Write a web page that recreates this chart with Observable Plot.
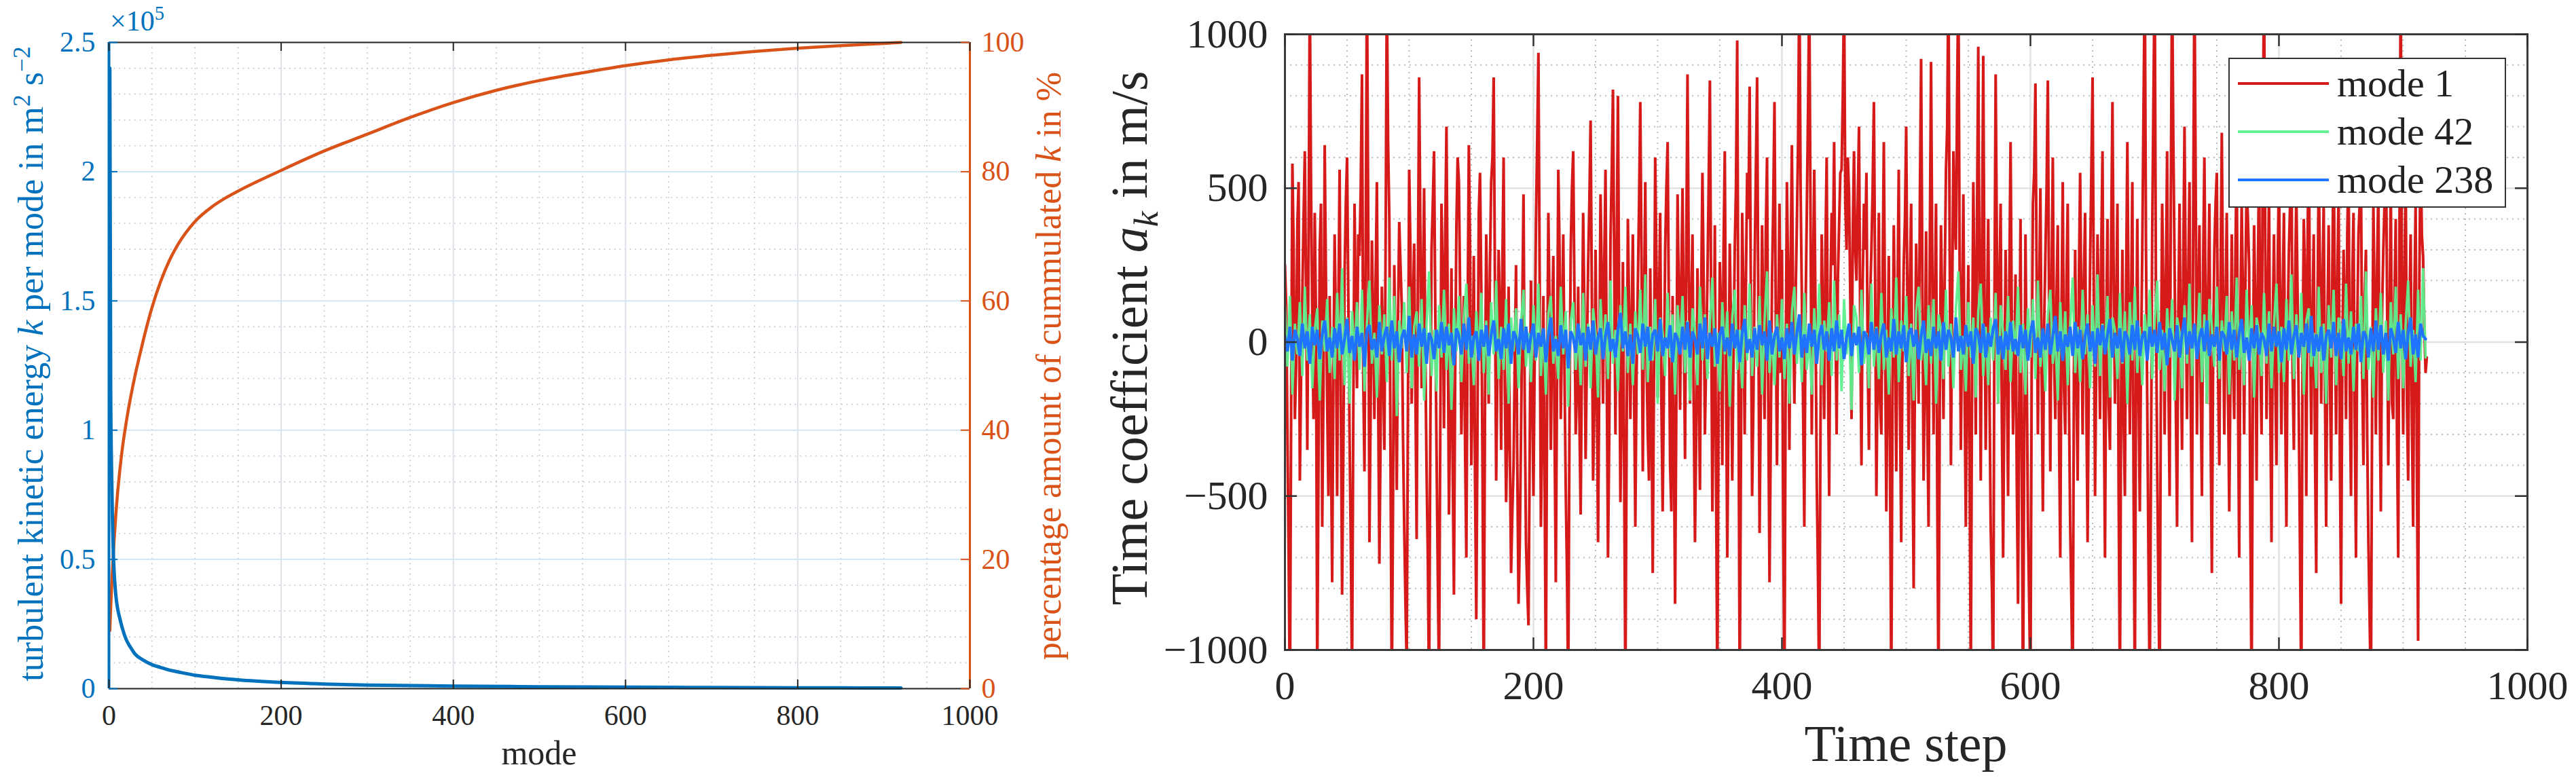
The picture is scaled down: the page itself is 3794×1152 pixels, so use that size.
<!DOCTYPE html>
<html><head><meta charset="utf-8">
<script src="https://cdn.jsdelivr.net/npm/d3@7"></script>
<script src="https://cdn.jsdelivr.net/npm/@observablehq/plot@0.6"></script>
<style>
html,body{margin:0;padding:0;background:#fff;}
#root{position:relative;width:3794px;height:1152px;overflow:hidden;font-family:"Liberation Serif",serif;background:#fff;}
.panel{position:absolute;top:0;}
.panel svg, .panel svg text{font-family:"Liberation Serif",serif !important;}
.lbl{position:absolute;white-space:nowrap;line-height:1;font-family:"Liberation Serif",serif;}
.lbl sup{font-size:0.68em;vertical-align:0.55em;line-height:0;}
.lbl sub{font-size:0.68em;vertical-align:-0.3em;line-height:0;}
.legend{position:absolute;background:#fff;border:2.5px solid #333;box-sizing:border-box;font-family:"Liberation Serif",serif;}
.legend .row{position:absolute;left:0;white-space:nowrap;line-height:1;color:#222;}
</style></head><body><div id="root"></div>
<script>
// ---------------- Left panel data ----------------
const energyModes = [1,2,3,4,5,6,7,8,10,12,15,20,25,30,40,50,60,70,80,100,120,150,200,250,300,400,500,600,700,800,900,920];
const energyValues = [240000,115000,85000,66000,53000,45000,40000,36000,31000,28000,24000,19000,16000,13500,11000,9300,8200,7200,6500,5200,4400,3400,2400,1800,1400,1000,750,580,450,350,260,240];
const cumModes = [1,2,3,4,5,6,8,10,12,15,20,25,30,35,40,50,60,70,80,100,120,135,150,200,250,300,350,400,450,500,550,600,650,700,750,800,850,900,920];
const cumPercent = [9.0,12.5,15.5,18.2,20.7,23.0,27.0,30.3,33.0,36.6,41.2,45.0,48.3,51.2,54.0,59.0,63.0,66.2,68.7,72.3,74.6,75.9,77.0,80.2,83.2,85.8,88.4,90.7,92.6,94.1,95.3,96.4,97.3,98.0,98.6,99.1,99.5,99.85,100];
const modeTicks = [0,200,400,600,800,1000];
const modeMinorTicks = [50,100,150,250,300,350,450,500,550,650,700,750,850,900,950];
const energyTicks = [0,0.5,1,1.5,2,2.5];          // in units of 1e5
const energyTickLabels = ["0","0.5","1","1.5","2","2.5"];
const energyMinorTicks = [0.1,0.2,0.3,0.4,0.6,0.7,0.8,0.9,1.1,1.2,1.3,1.4,1.6,1.7,1.8,1.9,2.1,2.2,2.3,2.4];
const percentTickLabels = ["0","20","40","60","80","100"];

// ---------------- Right panel data ----------------
const timeTicks = [0,200,400,600,800,1000];
const timeMinorTicks = [50,100,150,250,300,350,450,500,550,650,700,750,850,900,950];
const coefTicks = [-1000,-500,0,500,1000];
const coefMinorTicks = [-900,-800,-700,-600,-400,-300,-200,-100,100,200,300,400,600,700,800,900];
const seriesNames = ["mode 1","mode 42","mode 238"];
const seriesColors = ["#d20000","#5cf08e","#1f74ff"];
const seriesStep = [1, 2, 2];
const mode1 = [
250,120,-300,-700,-1200,-200,580,300,-250,-80,380,520,-450,-100,150,400,620,150,-350,300,1150,500,80,-250,420,60,-1100,-400,300,450,-600,-150,640,200,-200,-500,150,-300,-780,-100,
350,50,-500,100,560,-200,-820,-350,220,450,600,150,-300,-650,-1100,-250,450,100,-150,350,280,500,870,-100,-420,300,1200,400,-650,-200,330,80,-250,200,520,-150,-720,-300,180,-50,
-350,300,1150,650,400,-400,-1150,-500,250,-100,-480,80,390,250,120,-300,-600,-850,-1050,-200,560,300,-200,100,320,-150,-640,200,860,350,-150,150,500,-50,-420,-700,-1150,-300,300,450,
620,100,-350,-750,-1100,-300,450,200,-280,350,700,100,-560,-200,240,-400,-820,-100,380,600,520,150,-300,-50,150,-350,-700,50,640,300,-400,-150,280,-450,-900,-250,420,550,180,-400,
-1150,-200,350,50,-200,250,520,600,860,200,-450,-100,300,100,-350,250,600,-150,-520,-300,180,-350,-750,-550,-400,-50,250,-400,-850,-650,-300,100,480,-200,-650,-800,-920,-350,200,-150,
-500,-50,380,650,940,200,-600,-300,150,-450,-1100,-150,420,100,-350,50,280,-300,-780,-100,560,300,-250,50,350,-100,-480,-750,-1150,-250,300,500,620,150,-300,-150,180,-250,-560,-50,
420,100,-380,-50,250,450,720,150,-450,-200,300,-150,-650,-100,480,200,-200,250,560,-100,-700,-300,330,550,820,250,-300,300,800,100,-520,-200,260,-400,-1150,-300,400,100,-250,50,
350,-150,-600,-100,180,450,780,250,-420,100,520,-50,-300,-450,240,-200,-750,-100,600,250,-180,100,420,-200,-550,-150,300,500,650,100,-400,-550,150,-300,-850,-200,480,150,-220,200,
500,50,-380,300,870,250,-200,100,350,-200,-650,-300,240,-100,-480,150,550,200,-300,-50,200,500,850,150,-550,-150,380,-450,-1150,-200,260,100,-400,300,620,-100,-700,-200,320,50,
-450,-50,300,500,980,-100,-1150,-350,420,150,-300,200,550,400,830,150,-500,-200,250,550,860,100,-620,-150,380,50,-250,350,600,-200,-780,-300,200,450,780,100,-400,50,450,-100,
300,-550,-1150,-100,520,200,-350,250,640,100,-200,150,380,650,1200,500,150,-200,-600,100,420,750,1150,400,-300,200,560,100,-450,-750,-1150,-300,350,50,-250,300,600,-100,-500,150,
420,250,650,100,-300,200,380,550,560,800,1150,450,300,600,480,150,-250,350,620,300,200,450,700,50,-400,200,450,300,550,-50,-350,150,300,500,780,200,-500,-100,420,-200,
-300,200,650,50,-550,-100,280,-400,-1150,-150,380,50,-420,150,560,-200,-650,-50,250,400,700,100,-350,200,450,-300,-800,-100,320,50,-200,450,920,200,-450,-100,360,-250,-600,300,
910,250,-300,100,450,-500,-1150,-200,380,100,-250,200,560,700,1200,300,-400,150,620,400,300,800,1200,250,-350,100,480,-150,-600,-50,250,-400,-1100,-100,520,150,-300,400,960,200,
-450,300,930,150,-350,50,400,-150,-600,-800,-1150,100,870,300,-200,150,450,-250,-700,-150,300,-100,-500,200,650,50,-300,-100,220,-450,-850,-200,400,-350,-1200,-300,350,-100,-600,-850,
-1150,-100,450,550,840,200,-300,150,500,-100,-550,50,280,500,850,100,-420,200,600,-50,-250,150,380,-300,-700,100,520,-150,-300,200,450,-200,-600,-850,-1150,-100,300,-150,-450,200,
550,100,-300,200,420,-200,-650,-100,250,550,860,150,-500,-50,350,100,-250,300,620,-150,-700,50,400,-200,-350,350,780,200,-200,100,450,-500,-1150,-150,300,-250,-500,200,650,100,
-300,100,520,-450,-1150,-100,400,-150,-550,-50,300,750,1200,300,-200,-700,-1150,-400,350,800,1200,150,-400,-800,-1150,-100,450,150,-300,200,620,-100,-500,500,1200,650,250,-200,-600,100,
450,-50,-350,250,700,150,-250,200,520,-200,-650,400,1200,500,-300,100,380,-150,-500,250,600,100,-200,150,450,-300,-750,-50,300,450,550,-100,-400,200,680,150,-300,100,420,-150,
-550,-100,350,-50,-250,300,600,-150,-700,100,450,150,-300,200,520,400,250,-600,-1150,-150,380,100,-450,200,600,-50,-300,650,1200,300,-250,100,500,-200,-650,50,350,-100,-400,250,
550,100,-300,150,420,-200,-600,50,300,450,650,-100,-350,200,480,150,-250,-700,-1150,-50,400,200,-500,300,700,50,-300,100,350,-350,-750,100,550,250,-200,150,450,-150,-600,50,
380,-100,-450,250,650,100,-300,200,500,-350,-850,-50,300,100,-250,350,600,-150,-500,200,420,-250,-700,50,350,450,550,-100,-400,150,300,-300,-650,-900,-1150,-200,450,100,-300,250,
500,-150,-550,100,300,450,680,150,-400,50,520,-200,-250,150,400,-300,-700,350,1200,100,-300,200,550,-200,-450,100,350,-250,-600,150,450,-400,-970,200,650,350,280,50,-100,-50];
const mode42 = [
120,-80,150,-170,60,-40,130,-110,180,-60,90,-150,40,110,-190,70,-30,140,-100,50,
-120,160,-60,240,-140,80,-200,100,-50,130,-90,170,-160,60,200,-70,30,-180,120,-40,
90,-130,210,-60,150,-240,70,-20,130,-100,180,-150,50,100,-80,140,-190,60,230,-110,
40,-160,120,-50,170,-90,60,-220,110,-30,150,-130,80,190,-70,20,-140,100,-60,160,
-100,70,-170,130,-40,200,-120,50,-90,140,-200,80,-30,110,-150,60,170,-80,30,-130,
120,-60,190,-110,40,-170,90,150,-70,20,-120,180,-40,100,-210,70,130,-90,50,-140,
160,-80,60,-150,110,30,-180,140,-50,90,-120,200,-70,40,-160,120,-30,180,-100,60,
-140,100,-40,170,-90,220,-130,50,-60,140,-200,80,30,-110,160,-50,90,-170,120,-20,
150,-100,70,-190,110,40,-140,180,-60,90,-120,60,210,-80,30,-160,130,-40,100,-210,
80,170,-90,40,-150,120,-60,190,-110,50,-80,150,-170,70,230,-100,30,-140,90,-50,
140,-120,60,-200,100,180,-70,40,-130,160,-90,20,-170,110,-50,190,-140,70,-30,130,
-110,200,-60,90,-160,140,-40,60,-220,120,80,-100,170,-70,30,-150,190,-80,50,-120,
160,-90,40,-170,110,-50,210,-130,70,-30,150,-110,60,-190,100,180,-60,30,-140,120,
-70,140,-200,90,40,-120,170,-80,60,-150,110,230,-90,20,-160,130,-50,80,-180,100,
190,-110,50,-140,80,-60,160,-200,120,30,-90,150,-130,70,-40,180,-100,60,-170,110,
-50,140,-120,200,-80,40,-160,90,170,-70,30,-190,130,-60,100,-140,60,210,-100,50,
-130,170,-40,90,-150,120,-80,220,-110,60,-30,150,-180,80,40,-120,160,-70,100,-200,
130,-60,180,-100,50,-140,90,-30,170,-120,70,200,-90,40,-160,110,-50,140,-190,80,
30,-150,120,-70,190,-110,60,-40,160,-130,90,-200,140,50,-80,180,-120,70,-30,150,
-170,100,-60,210,-90,40,-140,170,-50,120,-180,80,30,-110,160,-70,100,-150,60,190,
-100,50,-130,140,-60,220,-120,90,-40,160,-170,70,110,-80,30,-150,180,-100,60,-200,
120,-50,170,-140,80,40,-110,190,-70,100,-160,60,-30,150,-120,230,-90,50,-180,110,
-60,160,-100,70,-190,130,-40,180,-120,90,-150,60,200,-80,40,-130,170,-60,240,-50];
const mode238 = [
20,-30,50,-60,40,10,-45,60,-20,35,-70,50,-10,40,-55,25,70,-30,15,-50,
45,-20,60,-40,10,75,-35,20,-60,50,-15,30,-80,40,55,-25,10,-50,65,-30,
20,50,-45,70,-20,35,-65,15,40,-30,85,-50,25,-40,60,-15,45,-70,30,10,
-55,40,-20,65,-35,50,-10,30,-75,45,20,-40,60,-25,80,-50,15,35,-60,40,
-15,55,-45,25,70,-30,10,-55,45,-20,60,-70,35,15,-40,75,-25,50,-35,20,
60,-50,30,-15,45,-65,25,80,-30,10,-45,55,-20,40,-85,35,15,-35,60,-10,
30,-60,50,-25,70,-40,15,45,-55,20,65,-30,10,-50,40,95,-20,35,-45,25,
-70,45,20,-35,60,-15,50,-60,25,40,-30,75,-45,15,-20,55,-65,30,10,-40,
50,-25,65,-50,35,10,-40,60,-20,80,-55,30,-15,45,-70,25,50,-30,15,-45,
60,-20,40,-65,30,75,-35,10,-50,45,-25,55,-10,35,-60,70,-40,20,50,-30,
15,-55,45,-20,65,-40,30,90,-50,25,-35,60,-15,40,-70,20,55,-25,35,-60,
45,-30,70,-20,40,-55,15,60,-45,30,-10,50,-75,35,20,-40,65,-25,45,-35,
25,60,-50,15,-30,75,-40,35,-20,55,-65,30,45,-15,40,-55,20,70,-35,10,
-45,50,-20,35,-60,65,-25,40,15,-50,80,-30,20,-40,55,-15,35,-70,45,25,
-35,60,-50,30,-15,45,75,-40,20,-55,35,-25,65,-30,10,-45,55,-20,40,-60,
30,70,-35,15,-50,45,-25,60,-40,20,85,-30,35,-60,25,-15,50,-45,65,-20,
40,-55,20,60,-30,35,-70,45,-10,55,-40,25,75,-50,30,-20,45,-65,35,15,
-40,55,-25,70,-45,20,35,-60,50,-15,40,-35,65,-25,30,-75,45,10,-30,55,
-50,25,80,-40,35,-20,60,-55,15,45,-30,70,-45,25,-15,50,-60,35,20,-40,
65,-25,40,-50,30,75,-35,15,-60,45,-20,55,-40,30,10,-45,60,-30,50,-15,
35,-65,45,-25,70,-40,20,55,-50,30,-15,60,-35,85,-45,25,-30,50,-60,20,
40,-20,65,-45,30,-55,75,-30,15,-40,50,-25,60,-65,35,20,-50,45,-30,70,
-25,55,-40,30,-60,45,15,-35,65,-20,40,-55,30,80,-40,25,-50,60,20,10];
const seriesValues = [mode1, mode42, mode238];

// ---------------- Styles / layout ----------------
const FONT = '"Liberation Serif", serif';
const BLUE = "#0072BD", ORANGE = "#D95319", INK = "#262626";
const root = document.getElementById("root");

function addPanel(svg, left, width) {
  const d = document.createElement("div");
  d.className = "panel"; d.style.left = left + "px"; d.style.width = width + "px";
  d.appendChild(svg); root.appendChild(d);
}
function addLabel(html, cx, cy, size, color, rotate, extra) {
  const d = document.createElement("div");
  d.className = "lbl"; d.innerHTML = html;
  d.style.left = cx + "px"; d.style.top = cy + "px";
  d.style.fontSize = size + "px"; d.style.color = color;
  d.style.transform = "translate(-50%,-50%)" + (rotate ? " rotate(-90deg)" : "");
  if (extra) Object.assign(d.style, extra);
  root.appendChild(d);
}

// ---------------- Left panel ----------------
const L = {left: 0, w: 1560, h: 1152, ml: 160, mr: 132, mt: 62, mb: 138};
const LiW = L.w - L.ml - L.mr, LiH = L.h - L.mt - L.mb;
const energyData = energyModes.map((m, i) => ({mode: m, k: energyValues[i]}));
const cumData = cumModes.map((m, i) => ({mode: m, pct: cumPercent[i]}));
const pctToAxis = 2.5 / 100; // 100 % corresponds to the top of the left axis
const LT = 13;

const leftPlot = Plot.plot({
  width: L.w, height: L.h,
  marginLeft: L.ml, marginRight: L.mr, marginTop: L.mt, marginBottom: L.mb,
  style: {fontFamily: FONT, fontSize: "42px", background: "transparent", overflow: "visible"},
  x: {domain: [0, 1000]},
  y: {domain: [0, 2.5]},
  marks: [
    Plot.gridX(modeMinorTicks, {stroke: "#b9bec4", strokeOpacity: 1, strokeWidth: 1.6, strokeDasharray: "1.6,6"}),
    Plot.gridY(energyMinorTicks, {stroke: "#b9c3cc", strokeOpacity: 1, strokeWidth: 1.6, strokeDasharray: "1.6,6"}),
    Plot.gridX(modeTicks, {stroke: "#dde2e8", strokeOpacity: 1, strokeWidth: 2}),
    Plot.gridY(energyTicks, {stroke: "#d3e6f4", strokeOpacity: 1, strokeWidth: 2}),
    Plot.line(cumData, {x: "mode", y: d => d.pct * pctToAxis, stroke: ORANGE, strokeWidth: 4.5, curve: "monotone-x"}),
    Plot.line(energyData, {x: "mode", y: d => d.k / 1e5, stroke: BLUE, strokeWidth: 5, curve: "monotone-x"}),
    Plot.ruleY([0], {stroke: INK, strokeWidth: 2.2}),
    Plot.ruleY([2.5], {stroke: INK, strokeWidth: 2.2}),
    Plot.ruleX([0], {stroke: BLUE, strokeWidth: 4}),
    Plot.ruleX([1000], {stroke: ORANGE, strokeWidth: 3}),
    Plot.tickX(modeTicks, {x: d => d, insetTop: LiH - LT, stroke: INK, strokeWidth: 2}),
    Plot.tickX(modeTicks, {x: d => d, insetBottom: LiH - LT, stroke: INK, strokeWidth: 2}),
    Plot.tickY(energyTicks, {y: d => d, insetRight: LiW - LT, stroke: BLUE, strokeWidth: 2}),
    Plot.tickY(energyTicks, {y: d => d, insetLeft: LiW - LT, stroke: ORANGE, strokeWidth: 2}),
    Plot.axisX(modeTicks, {tickSize: 0, tickPadding: 24, label: null, fill: INK, fontSize: 42, tickFormat: d => String(d)}),
    Plot.axisY(energyTicks, {anchor: "left", tickSize: 0, tickPadding: 20, label: null, fill: BLUE, fontSize: 42,
      tickFormat: d => energyTickLabels[energyTicks.indexOf(d)]}),
    Plot.axisY(energyTicks, {anchor: "right", tickSize: 0, tickPadding: 17, label: null, fill: ORANGE, fontSize: 42,
      tickFormat: d => percentTickLabels[energyTicks.indexOf(d)]})
  ]
});
addPanel(leftPlot, L.left, L.w);

// ---------------- Right panel ----------------
const R = {left: 1560, w: 2234, h: 1152, ml: 332, mr: 72, mt: 50, mb: 195};
const RiW = R.w - R.ml - R.mr, RiH = R.h - R.mt - R.mb;
const RT = 18;
const series = seriesNames.map((name, s) => seriesValues[s].map((v, i) => ({t: i * seriesStep[s], v, name})));
const widths = [4, 3.6, 4.4];
const opac = [0.9, 0.95, 1];

const rightPlot = Plot.plot({
  width: R.w, height: R.h,
  marginLeft: R.ml, marginRight: R.mr, marginTop: R.mt, marginBottom: R.mb,
  style: {fontFamily: FONT, fontSize: "60px", background: "transparent", overflow: "visible"},
  x: {domain: [0, 1000]},
  y: {domain: [-1000, 1000]},
  marks: [
    Plot.gridX(timeMinorTicks, {stroke: "#bcbcbc", strokeOpacity: 1, strokeWidth: 2, strokeDasharray: "2,6"}),
    Plot.gridY(coefMinorTicks, {stroke: "#bcbcbc", strokeOpacity: 1, strokeWidth: 2, strokeDasharray: "2,6"}),
    Plot.gridX(timeTicks, {stroke: "#e2e2e2", strokeOpacity: 1, strokeWidth: 2.5}),
    Plot.gridY(coefTicks, {stroke: "#e2e2e2", strokeOpacity: 1, strokeWidth: 2.5}),
    ...series.map((data, s) => Plot.line(data, {x: "t", y: "v", stroke: seriesColors[s], strokeWidth: widths[s], strokeOpacity: opac[s], strokeLinejoin: "bevel", clip: true})),
    Plot.frame({stroke: "#3a3a3a", strokeWidth: 3}),
    Plot.tickX(timeTicks, {x: d => d, insetTop: RiH - RT, stroke: "#333", strokeWidth: 2.5}),
    Plot.tickX(timeTicks, {x: d => d, insetBottom: RiH - RT, stroke: "#333", strokeWidth: 2.5}),
    Plot.tickY(coefTicks, {y: d => d, insetRight: RiW - RT, stroke: "#333", strokeWidth: 2.5}),
    Plot.tickY(coefTicks, {y: d => d, insetLeft: RiW - RT, stroke: "#333", strokeWidth: 2.5}),
    Plot.axisX(timeTicks, {tickSize: 0, tickPadding: 30, label: null, fill: INK, fontSize: 60, tickFormat: d => String(d)}),
    Plot.axisY(coefTicks, {anchor: "left", tickSize: 0, tickPadding: 25, label: null, fill: INK, fontSize: 60,
      tickFormat: d => d < 0 ? "\u2212" + Math.abs(d) : String(d)})
  ]
});
addPanel(rightPlot, R.left, R.w);

// ---------------- Titles ----------------
addLabel('turbulent kinetic energy <i>k</i> per mode in m<sup>2</sup> s<sup>\u22122</sup>', 46, 536, 52, BLUE, true);
addLabel('percentage amount of cummulated <i>k</i> in %', 1545, 539, 52, ORANGE, true);
addLabel('mode', (L.ml + L.w - L.mr) / 2, 1109, 50, INK, false);
{
  const d = document.createElement("div");
  d.className = "lbl"; d.innerHTML = "\u00d710<sup>5</sup>";
  d.style.left = "162px"; d.style.top = "10px"; d.style.fontSize = "42px"; d.style.color = BLUE;
  root.appendChild(d);
}
addLabel('Time coefficient <i>a<sub>k</sub></i> in m/s', 1663, 498, 76, INK, true);
addLabel('Time step', R.left + R.ml + RiW / 2, 1095, 76, INK, false);

// ---------------- Legend ----------------
{
  const box = document.createElement("div");
  box.className = "legend";
  box.style.left = "3282px"; box.style.top = "85px"; box.style.width = "409px"; box.style.height = "221px";
  seriesNames.forEach((name, s) => {
    const row = document.createElement("div");
    row.className = "row";
    row.style.top = (36 + s * 71 - 30) + "px";
    row.style.height = "60px";
    row.style.width = "400px";
    row.innerHTML = `<svg width="150" height="60" style="position:absolute;left:0;top:0"><line x1="12" x2="146" y1="30" y2="30" stroke="${seriesColors[s]}" stroke-width="4" stroke-opacity="${opac[s]}"/></svg><span style="position:absolute;left:158px;top:50%;transform:translateY(-50%);font-size:58px;">${name}</span>`;
    box.appendChild(row);
  });
  root.appendChild(box);
}
</script></body></html>
